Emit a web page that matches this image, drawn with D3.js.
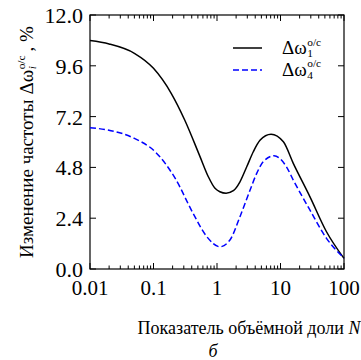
<!DOCTYPE html>
<html>
<head>
<meta charset="utf-8">
<script src="https://cdn.jsdelivr.net/npm/d3@7"></script>
<style>
  body { margin: 0; background: #fff; }
  svg text { font-family: "Liberation Serif", "Times New Roman", serif; fill: #000; }
</style>
</head>
<body>
<div id="chart"></div>
<script>
// data
var nBlack = [0.01, 0.02, 0.05, 0.1, 0.19, 0.31, 0.54, 0.73, 0.93, 1.11, 1.39, 1.81, 2.3, 2.94, 3.73, 4.75, 7.1, 11.1, 15.9, 29, 53, 100];
var omega1 = [10.79, 10.63, 10.19, 9.48, 8.3, 7.04, 5.31, 4.36, 3.81, 3.65, 3.58, 3.7, 4.12, 4.83, 5.54, 6.08, 6.37, 6.01, 4.99, 3.42, 1.76, 0.5];
var nBlue = [0.01, 0.019, 0.05, 0.106, 0.22, 0.42, 0.69, 1.11, 1.6, 2.3, 3.31, 4.22, 5.36, 7.9, 12.4, 15.9, 29, 53, 100];
var omega4 = [6.67, 6.57, 6.17, 5.54, 4.28, 2.63, 1.53, 1.05, 1.37, 2.47, 3.72, 4.52, 5.07, 5.35, 4.83, 4.2, 2.79, 1.45, 0.52];
var xTicks = [0.01, 0.1, 1, 10, 100];
var xTickLabels = ["0.01", "0.1", "1", "10", "100"];
var yTicks = [0, 2.4, 4.8, 7.2, 9.6, 12];

(function() {
  var W = 361, H = 360;
  var pLeft = 90, pRight = 344, pTop = 15, pBottom = 269;

  var svg = d3.select("#chart").append("svg")
    .attr("width", W).attr("height", H)
    .attr("font-family", "'Liberation Serif', 'Times New Roman', serif");

  var x = d3.scaleLog().domain([0.01, 100]).range([pLeft, pRight]);
  var y = d3.scaleLinear().domain([0, 12]).range([pBottom, pTop]);

  // minor ticks 2..9 in each decade
  var minor = [];
  [0.01, 0.1, 1, 10].forEach(function(d) {
    for (var k = 2; k <= 9; k++) minor.push(d * k);
  });

  var g = svg.append("g");

  // frame
  g.append("rect")
    .attr("x", pLeft).attr("y", pTop)
    .attr("width", pRight - pLeft).attr("height", pBottom - pTop)
    .attr("fill", "none").attr("stroke", "#000").attr("stroke-width", 1.2);

  // x ticks, bottom and top, inward
  xTicks.forEach(function(d) {
    g.append("line").attr("x1", x(d)).attr("x2", x(d)).attr("y1", pBottom).attr("y2", pBottom - 6).attr("stroke", "#000");
    g.append("line").attr("x1", x(d)).attr("x2", x(d)).attr("y1", pTop).attr("y2", pTop + 6).attr("stroke", "#000");
  });
  minor.forEach(function(d) {
    g.append("line").attr("x1", x(d)).attr("x2", x(d)).attr("y1", pBottom).attr("y2", pBottom - 3.5).attr("stroke", "#000");
    g.append("line").attr("x1", x(d)).attr("x2", x(d)).attr("y1", pTop).attr("y2", pTop + 3.5).attr("stroke", "#000");
  });
  // y ticks, left and right, inward
  yTicks.forEach(function(d) {
    g.append("line").attr("x1", pLeft).attr("x2", pLeft + 6).attr("y1", y(d)).attr("y2", y(d)).attr("stroke", "#000");
    g.append("line").attr("x1", pRight).attr("x2", pRight - 6).attr("y1", y(d)).attr("y2", y(d)).attr("stroke", "#000");
  });

  // tick labels
  xTicks.forEach(function(d, i) {
    svg.append("text").attr("x", x(d)).attr("y", 295)
      .attr("text-anchor", "middle").attr("font-size", 21)
      .text(xTickLabels[i]);
  });
  yTicks.forEach(function(d) {
    svg.append("text").attr("x", 83).attr("y", y(d) + 8)
      .attr("text-anchor", "end").attr("font-size", 22)
      .text(d3.format(".1f")(d));
  });

  // curves
  var line = d3.line()
    .x(function(d) { return x(d[0]); })
    .y(function(d) { return y(d[1]); })
    .curve(d3.curveMonotoneX);
  svg.append("path")
    .datum(d3.zip(nBlack, omega1))
    .attr("d", line)
    .attr("fill", "none").attr("stroke", "#000").attr("stroke-width", 1.5);
  svg.append("path")
    .datum(d3.zip(nBlue, omega4))
    .attr("d", line)
    .attr("fill", "none").attr("stroke", "#0000ff").attr("stroke-width", 1.5)
    .attr("stroke-dasharray", "6,3");

  // Δω with stacked sub/superscript, returns total width
  function omegaLabel(parent, px, py, sub, italicSub, size) {
    var t = parent.append("text").attr("x", px).attr("y", py).attr("font-size", size).text("Δω");
    var w = t.node().getComputedTextLength();
    var s1 = parent.append("text").attr("x", px + w + 0.5).attr("y", py + 3).attr("font-size", size * 0.6)
      .attr("font-style", italicSub ? "italic" : "normal").text(sub);
    var s2 = parent.append("text").attr("x", px + w + 0.5).attr("y", py - 8.5).attr("font-size", size * 0.6).text("o/c");
    return w + 0.5 + Math.max(s1.node().getComputedTextLength(), s2.node().getComputedTextLength());
  }

  // legend
  svg.append("line").attr("x1", 233).attr("x2", 262).attr("y1", 48).attr("y2", 48)
    .attr("stroke", "#000").attr("stroke-width", 1.5);
  svg.append("line").attr("x1", 233).attr("x2", 262).attr("y1", 70).attr("y2", 70)
    .attr("stroke", "#0000ff").attr("stroke-width", 1.5).attr("stroke-dasharray", "6,3");
  omegaLabel(svg, 282, 54, "1", false, 19);
  omegaLabel(svg, 282, 75.5, "4", false, 19);

  // x label
  var xl = svg.append("text").attr("x", 249).attr("y", 334).attr("text-anchor", "middle").attr("font-size", 18);
  xl.append("tspan").text("Показатель объёмной доли ");
  xl.append("tspan").attr("font-style", "italic").text("N");

  svg.append("text").attr("x", 213).attr("y", 357).attr("text-anchor", "middle")
    .attr("font-size", 18).attr("font-style", "italic").text("б");

  // y label, rotated
  var yg = svg.append("g");
  var part1 = yg.append("text").attr("x", 0).attr("y", 0).attr("font-size", 19).text("Изменение частоты");
  var w1 = part1.node().getComputedTextLength() + 5;
  var w2 = omegaLabel(yg, w1, 0, "i", true, 19);
  var part3 = yg.append("text").attr("x", w1 + w2 + 4).attr("y", 0).attr("font-size", 19).text(", %");
  var total = w1 + w2 + 4 + part3.node().getComputedTextLength();
  yg.attr("transform", "translate(33," + (142 + total / 2) + ") rotate(-90)");
})();
</script>
</body>
</html>
